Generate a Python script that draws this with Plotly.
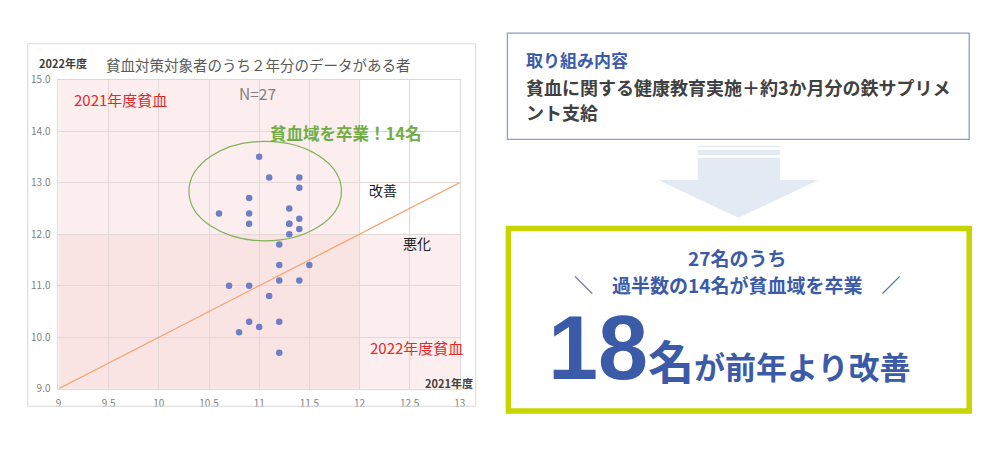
import plotly.graph_objects as go

# ---------------- data ----------------
hb_2021 = [11.0, 11.1, 11.4, 11.4, 10.9, 10.6, 10.9, 11.3, 10.9, 11.3, 11.4, 11.4, 11.3, 11.3,
           11.2, 11.2, 11.5, 11.2, 11.4, 10.7, 10.9, 11.1, 10.9, 11.2, 11.0, 10.8, 11.2]
hb_2022 = [13.5, 13.1, 13.1, 12.9, 12.7, 12.4, 12.4, 12.5, 12.2, 12.2, 12.3, 12.1, 12.0, 12.2,
           11.8, 11.4, 11.4, 11.1, 11.1, 11.0, 11.0, 10.8, 10.3, 10.3, 10.2, 10.1, 9.7]
x_ticks = [9, 9.5, 10, 10.5, 11, 11.5, 12, 12.5, 13]
x_tick_labels = ["9", "9.5", "10", "10.5", "11", "11.5", "12", "12.5", "13"]
y_ticks = [9, 10, 11, 12, 13, 14, 15]
y_tick_labels = ["9.0", "10.0", "11.0", "12.0", "13.0", "14.0", "15.0"]
x_range = [9, 13]
y_range = [9, 15]
anemia_threshold = 12.0
equal_line = [9, 13]
ellipse_x = [10.3, 11.82]
ellipse_y = [11.87, 13.8]

JP = "Noto Sans CJK JP"
BLUE = "#3B5BA8"


def px(x):
    return x / 1000.0


def py(y):
    return 1 - y / 449.0


fig = go.Figure()

fig.add_trace(go.Scatter(x=equal_line, y=equal_line, mode="lines",
                         line=dict(color="#F2A673", width=1.3), hoverinfo="skip",
                         showlegend=False))
fig.add_trace(go.Scatter(x=hb_2021, y=hb_2022, mode="markers",
                         marker=dict(color="#6F7FC4", size=6.5), showlegend=False))

shapes = []
# shading regions (anemic zones)
shade = "rgba(246,206,206,0.35)"
shapes.append(dict(type="rect", xref="x", yref="y", x0=x_range[0], x1=anemia_threshold,
                   y0=y_range[0], y1=y_range[1], fillcolor=shade, line_width=0, layer="below"))
shapes.append(dict(type="rect", xref="x", yref="y", x0=x_range[0], x1=x_range[1],
                   y0=y_range[0], y1=anemia_threshold, fillcolor=shade, line_width=0, layer="below"))
# ellipse
shapes.append(dict(type="circle", xref="x", yref="y", x0=ellipse_x[0], x1=ellipse_x[1],
                   y0=ellipse_y[0], y1=ellipse_y[1], line=dict(color="#7FB25A", width=1.2)))
# chart frame
shapes.append(dict(type="rect", xref="paper", yref="paper", x0=px(25), x1=px(477),
                   y0=py(412), y1=py(37), line=dict(color="#D9D9D9", width=1)))
# top box
shapes.append(dict(type="rect", xref="paper", yref="paper", x0=px(509), x1=px(975),
                   y0=py(136), y1=py(26), line=dict(color="#8E9CC6", width=1.3),
                   fillcolor="white"))
# arrow
ac = "#E4EAF4"
shapes.append(dict(type="rect", xref="paper", yref="paper", x0=px(701), x1=px(784),
                   y0=py(144), y1=py(142.5), line_width=0, fillcolor=ac))
shapes.append(dict(type="rect", xref="paper", yref="paper", x0=px(701), x1=px(784),
                   y0=py(152), y1=py(147), line_width=0, fillcolor=ac))
arrow_path = "M {a},{b} L {c},{b} L {c},{d} L {e},{d} L {f},{g} L {h},{d} L {a2},{d} Z".format(
    a=px(701), b=py(155), c=px(784), d=py(178), e=px(823), f=px(742), g=py(217),
    h=px(661), a2=px(701))
shapes.append(dict(type="path", xref="paper", yref="paper", path=arrow_path,
                   line_width=0, fillcolor=ac))
# result box
shapes.append(dict(type="rect", xref="paper", yref="paper", x0=px(510), x1=px(975),
                   y0=py(417), y1=py(228), line=dict(color="#C8D400", width=5.5),
                   fillcolor="white"))

ann = []


def a(text, x, y, size, color, xanchor="left", bold=False, yanchor="middle"):
    ann.append(dict(text=("<b>%s</b>" % text) if bold else text, xref="paper", yref="paper",
                    x=px(x), y=py(y), xanchor=xanchor, yanchor=yanchor, showarrow=False,
                    font=dict(family=JP, size=size, color=color)))


a("2022年度", 34, 57, 11, "#404040", bold=True)
a("貧血対策対象者のうち２年分のデータがある者", 102, 58, 14.5, "#595959")
a("2021年度貧血", 70, 95, 15, "#E02A2A")
a("N=27", 236, 88, 15.5, "#808080")
a("貧血域を卒業！14名", 267, 129, 16.5, "#70AD47", bold=True)
a("改善", 367, 188, 14, "#202020")
a("悪化", 402, 243, 14, "#202020")
a("2022年度貧血", 368, 351, 15, "#E02A2A")
a("2021年度", 424, 388, 11, "#404040", bold=True)

a("取り組み内容", 526, 53, 17, BLUE, bold=True)
a("貧血に関する健康教育実施＋約3か月分の鉄サプリメ", 526, 82, 18, "#404040", bold=True)
a("ント支給", 526, 108, 18, "#404040", bold=True)

a("27名のうち", 741, 258, 19, BLUE, xanchor="center", bold=True)
a("＼　過半数の14名が貧血域を卒業　／", 741, 286, 19, BLUE, xanchor="center", bold=True)
ann.append(dict(
    text="<b><span style='font-size:90px;font-family:Liberation Sans'>18</span>"
         "<span style='font-size:46px'>名</span>"
         "<span style='font-size:31px'>が前年より改善</span></b>",
    xref="paper", yref="paper", x=px(733), y=py(352), xanchor="center", yanchor="middle",
    showarrow=False, font=dict(family=JP, size=31, color=BLUE)))

fig.update_layout(
    width=1000, height=449,
    margin=dict(l=0, r=0, t=0, b=0),
    paper_bgcolor="white", plot_bgcolor="white",
    shapes=shapes, annotations=ann,
    xaxis=dict(domain=[px(56), px(461)], range=x_range, tickvals=x_ticks,
               ticktext=x_tick_labels, showgrid=True, gridcolor="#E2D8D8", gridwidth=1,
               zeroline=False, showline=True, linecolor="#D9D9D9", mirror=True,
               ticks="outside", ticklen=5, tickcolor="rgba(0,0,0,0)",
               tickfont=dict(family=JP, size=10, color="#7F7F7F")),
    yaxis=dict(domain=[py(394), py(74)], range=y_range, tickvals=y_ticks,
               ticktext=y_tick_labels, showgrid=True, gridcolor="#E2D8D8", gridwidth=1,
               zeroline=False, showline=True, linecolor="#D9D9D9", mirror=True,
               ticks="outside", ticklen=5, tickcolor="rgba(0,0,0,0)",
               tickfont=dict(family=JP, size=10, color="#7F7F7F")),
)

fig.write_html("out.html", config={"displayModeBar": False},
               post_script="document.body.style.margin='0';document.body.style.overflow='hidden';")
